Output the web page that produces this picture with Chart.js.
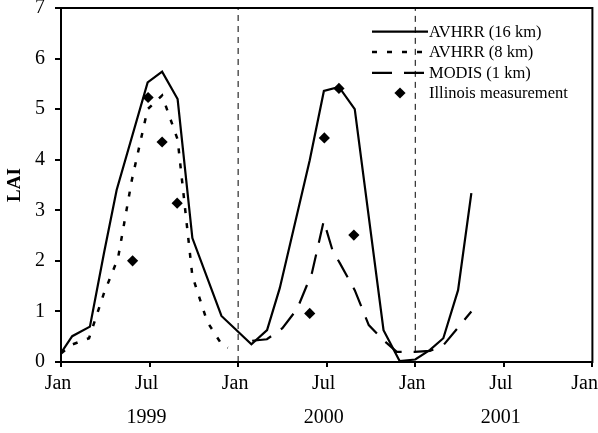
<!DOCTYPE html>
<html><head><meta charset="utf-8">
<script src="https://cdn.jsdelivr.net/npm/chart.js@4/dist/chart.umd.min.js"></script>
<style>html,body{margin:0;padding:0;background:#fff;overflow:hidden}</style>
</head><body>
<canvas id="c" width="598" height="433"></canvas>
<script>
// x values: months since Jan 1999
const tickMonths = [0, 6, 12, 18, 24, 30, 36];
const tickLabels = ['Jan', 'Jul', 'Jan', 'Jul', 'Jan', 'Jul', 'Jan'];
const yearLabels = ['', '1999', '', '2000', '', '2001', ''];

const avhrr16Month = [0, 0.76, 1.96, 2.91, 3.77, 5.87, 6.85, 7.90, 8.9, 10.87, 12.9, 13.96, 14.82, 16.85, 17.81, 18.83, 19.9, 21.85, 22.94, 24.0, 25.0, 25.9, 26.9, 27.8];
const avhrr16LAI   = [0.18, 0.51, 0.70, 2.15, 3.40, 5.53, 5.74, 5.20, 2.45, 0.91, 0.35, 0.63, 1.46, 3.99, 5.36, 5.44, 5.00, 0.63, 0.02, 0.05, 0.24, 0.47, 1.42, 3.34];

const avhrr8Month = [0, 0.8, 1.9, 2.91, 3.86, 4.8, 5.87, 6.85, 7.9, 8.9, 9.9, 10.9, 11.3];
const avhrr8LAI   = [0.17, 0.35, 0.47, 1.36, 2.05, 3.6, 5.0, 5.27, 4.4, 1.7, 0.8, 0.34, 0.28];

const modisMonth = [12.95, 13.95, 15.0, 16.0, 17.0, 17.8, 18.4, 18.9, 19.9, 20.85, 21.85, 22.75, 23.95, 25.0, 25.9, 26.9, 27.8];
const modisLAI   = [0.42, 0.45, 0.67, 1.05, 1.76, 2.79, 2.2, 1.95, 1.42, 0.73, 0.43, 0.2, 0.2, 0.22, 0.33, 0.68, 1.0];

const measMonth = [4.85, 5.9, 6.85, 7.87, 16.85, 17.84, 18.83, 19.84];
const measLAI   = [2.0, 5.23, 4.35, 3.14, 0.96, 4.43, 5.41, 2.51];

const dividerMonths = [12, 24];
const dividerFrom = [0, 0.2];
const dividerTo = [7, 7];

const seriesNames = ['AVHRR (16 km)', 'AVHRR (8 km)', 'MODIS (1 km)', 'Illinois measurement'];

const pts = (xs, ys) => xs.map((x, i) => ({x, y: ys[i]}));
const FONT = 'Liberation Serif';
Chart.defaults.font.family = FONT;
Chart.defaults.color = '#000';

const datasets = [
  {label: seriesNames[0], data: pts(avhrr16Month, avhrr16LAI), borderColor: '#000', borderWidth: 2.2, pointRadius: 0, tension: 0, fill: false},
  {label: seriesNames[1], data: pts(avhrr8Month, avhrr8LAI), borderColor: '#000', borderWidth: 2.5, borderDash: [5, 10], pointRadius: 0, tension: 0, fill: false},
  {label: seriesNames[2], data: pts(modisMonth, modisLAI), borderColor: '#000', borderWidth: 2.2, borderDash: [20, 12], pointRadius: 0, tension: 0, fill: false},
  {label: seriesNames[3], data: pts(measMonth, measLAI), showLine: false, pointStyle: 'rectRot', pointRadius: 5.6, pointBackgroundColor: '#000', pointBorderColor: '#000', pointBorderWidth: 0},
];
dividerMonths.forEach((m, i) => {
  datasets.push({label: '', data: [{x: m, y: dividerFrom[i]}, {x: m, y: dividerTo[i]}], borderColor: '#000', borderWidth: 1, borderDash: [6, 5], pointRadius: 0, tension: 0, fill: false});
});

const legendPlugin = {
  id: 'customLegend',
  beforeDraw(chart) {
    const sx = chart.scales.x;
    const items = sx.getLabelItems();
    if (items.length) {
      const last = items[items.length - 1];
      last.options.textAlign = 'right';
      last.options.translation[0] = 598;
    }
  },
  afterDraw(chart) {
    const ctx = chart.ctx;
    const a = chart.chartArea;
    ctx.save();
    ctx.strokeStyle = '#000';
    ctx.lineWidth = 2;
    ctx.setLineDash([]);
    ctx.strokeRect(a.left, a.top, a.right - a.left, a.bottom - a.top);
    // legend
    const rowsY = [31.7, 52, 72.8, 93];
    const x0 = 372, x1 = 428, tx = 429;
    const styles = [
      {dash: [], w: 2.2},
      {dash: [5, 10], w: 2.5},
      {dash: [20, 12], w: 2.2},
      null
    ];
    ctx.font = '16.5px "' + FONT + '"';
    ctx.textBaseline = 'middle';
    ctx.textAlign = 'left';
    ctx.fillStyle = '#000';
    seriesNames.forEach((name, i) => {
      const y = rowsY[i];
      const s = styles[i];
      if (s) {
        ctx.beginPath();
        ctx.lineWidth = s.w;
        ctx.setLineDash(s.dash);
        ctx.moveTo(x0, y);
        ctx.lineTo(x1, y);
        ctx.stroke();
        ctx.setLineDash([]);
      } else {
        const cx = (x0 + x1) / 2, d = 5.6;
        ctx.beginPath();
        ctx.moveTo(cx, y - d); ctx.lineTo(cx + d, y); ctx.lineTo(cx, y + d); ctx.lineTo(cx - d, y);
        ctx.closePath();
        ctx.fill();
      }
      ctx.fillText(name, tx, y + 1);
    });
    ctx.restore();
  }
};

new Chart(document.getElementById('c'), {
  type: 'line',
  data: {datasets},
  options: {
    responsive: false,
    animation: false,
    devicePixelRatio: 1,
    layout: {padding: {top: 8, right: 5, left: 0, bottom: 0}},
    plugins: {legend: {display: false}, tooltip: {enabled: false}},
    scales: {
      x: {
        type: 'linear', min: 0, max: 36,
        afterBuildTicks: s => { s.ticks = tickMonths.map(v => ({value: v})); },
        afterFit: s => { s.height = 71; s.paddingLeft = 0; s.paddingRight = 0; },
        ticks: {
          autoSkip: false, maxRotation: 0, minRotation: 0, padding: 0, labelOffset: -3,
          font: {size: 20, lineHeight: 1.7, family: FONT}, color: '#000',
          callback: (v) => {
            const i = tickMonths.indexOf(v);
            if (i < 0) return '';
            return yearLabels[i] ? [tickLabels[i], yearLabels[i]] : tickLabels[i];
          }
        },
        grid: {drawOnChartArea: false, drawTicks: true, tickLength: 5, color: '#000', lineWidth: 2},
        border: {display: true, color: '#000', width: 2}
      },
      y: {
        min: 0, max: 7,
        afterFit: s => { s.width = 61; s.paddingTop = 0; s.paddingBottom = 0; },
        ticks: {stepSize: 1, padding: 10, font: {size: 20, family: FONT}, color: '#000'},
        grid: {drawOnChartArea: false, drawTicks: true, tickLength: 6, color: '#000', lineWidth: 2},
        border: {display: true, color: '#000', width: 2},
        title: {display: true, text: 'LAI', font: {size: 19, weight: 'bold', family: FONT}, color: '#000'}
      }
    }
  },
  plugins: [legendPlugin]
});
</script>
</body></html>
